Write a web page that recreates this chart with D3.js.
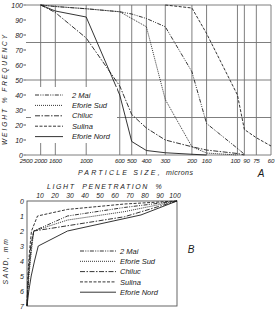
<!DOCTYPE html>
<html>
<head>
<meta charset="utf-8">
<script src="https://cdn.jsdelivr.net/npm/d3@7"></script>
<style>
  body { margin: 0; background: #fff; }
  svg text { font-family: "Liberation Sans", Arial, sans-serif; font-style: italic; fill: #1a1a1a; }
</style>
</head>
<body>
<div id="chart"></div>
<script>
const width = 276;
const height = 311;

// ---- A: particle size distribution ----
const sieveSizes = [2000, 1600, 1000, 600, 500, 400, 300, 200, 160, 100, 90, 75, 60];
const sizeTicks = [2500, 2000, 1600, 1000, 600, 500, 400, 300, 200, 160, 100, 90, 75, 60];
const freqTicks = [0, 10, 20, 30, 40, 50, 60, 70, 80, 90, 100];
const freqGrid = [0, 25, 50, 75, 100];
const mai2A       = [100, 99, 97.5, 95.5, 94, 91, 85.5, 55.5, 21, 4.4, 0.5, null, null];
const eforieSudA  = [100, 99, 97.5, 95.5, 91, 85.5, 37, 5.5, 1.3, 0, null, null, null];
const chilucA     = [100, 95, 78, 46, 27, 18, 10, 5.5, 3.3, 1, 0, null, null];
const sulinaA     = [null, null, null, null, null, null, 100, 98, 81, 40, 17, 11.5, 6];
const eforieNordA = [100, 96, 92, 40, 9, 3, 1.5, 0.5, 0, null, null, null, null];

// ---- B: light penetration vs sand depth, [percent, mm] ----
const penTicks = [10, 20, 30, 40, 50, 60, 70, 80, 90, 100];
const depthTicks = [0, 1, 2, 3, 4, 5, 6, 7];
const mai2B       = [[100, 0], [65, 0.43], [27, 1.0], [4.5, 2], [3, 3], [2, 4], [1, 5], [0.5, 6], [0, 7]];
const eforieSudB  = [[100, 0], [65, 0.71], [27, 1.27], [4.5, 2], [3.3, 3], [2.2, 4], [1.3, 5], [0.6, 6], [0, 7]];
const chilucB     = [[100, 0], [65, 1.05], [20, 1.76], [4.5, 2], [2.5, 3], [1.6, 4], [0.9, 5], [0.4, 6], [0, 7]];
const sulinaB     = [[100, 0], [65, 0.2], [27, 0.56], [7, 1], [3, 2], [2, 3], [1.2, 4], [0.6, 5], [0.3, 6], [0, 7]];
const eforieNordB = [[100, 0], [76, 0.93], [27, 2], [7.5, 3], [5, 4], [2.8, 5], [1.2, 6], [0, 7]];

const series = [
  {name: "2 Mai",       a: mai2A,       b: mai2B,       dash: "4,1.3,1,1.3,1,1.3"},
  {name: "Eforie Sud",  a: eforieSudA,  b: eforieSudB,  dash: "1,1"},
  {name: "Chiluc",      a: chilucA,     b: chilucB,     dash: "5,1.5,1.5,1.5"},
  {name: "Sulina",      a: sulinaA,     b: sulinaB,     dash: "3,1.5"},
  {name: "Eforie Nord", a: eforieNordA, b: eforieNordB, dash: null}
];

const svg = d3.select('#chart')
  .append('svg')
  .attr('width', width)
  .attr('height', height);

const gridColor = '#707070';
const lineColor = '#1e1e1e';

// ===== chart A =====
const x = d3.scaleLog().domain([2500, 60]).range([26, 271]);
const y = d3.scaleLinear().domain([0, 100]).range([155, 5]);

const gA = svg.append('g');

// grid
gA.selectAll('.vgrid')
  .data(sieveSizes)
  .enter().append('line')
  .attr('x1', d => x(d)).attr('x2', d => x(d))
  .attr('y1', y(100)).attr('y2', y(0))
  .attr('stroke', gridColor).attr('stroke-width', 0.9);

gA.selectAll('.hgrid')
  .data(freqGrid)
  .enter().append('line')
  .attr('x1', x(2500)).attr('x2', x(60))
  .attr('y1', d => y(d)).attr('y2', d => y(d))
  .attr('stroke', gridColor).attr('stroke-width', 0.9);

// y ticks
gA.selectAll('.ytick')
  .data(freqTicks)
  .enter().append('line')
  .attr('x1', x(2500) - 2.5).attr('x2', x(2500))
  .attr('y1', d => y(d)).attr('y2', d => y(d))
  .attr('stroke', '#333').attr('stroke-width', 0.8);

gA.selectAll('.ylab')
  .data(freqTicks)
  .enter().append('text')
  .attr('x', x(2500) - 3)
  .attr('y', d => y(d) + 2.5)
  .attr('text-anchor', 'end')
  .attr('font-size', 7)
  .text(d => d);

// 100 and 90 sit very close, so push them apart a little
gA.selectAll('.xlab')
  .data(sizeTicks)
  .enter().append('text')
  .attr('x', d => d === 100 ? x(d) + 2.5 : d === 90 ? x(d) - 1 : x(d))
  .attr('y', 163)
  .attr('text-anchor', d => d === 100 ? 'end' : d === 90 ? 'start' : 'middle')
  .attr('font-size', 6.2)
  .attr('letter-spacing', -0.3)
  .text(d => d);

// curves
const lineA = d3.line()
  .defined(d => d.v != null)
  .x(d => x(d.s))
  .y(d => y(d.v));

gA.selectAll('.curveA')
  .data(series)
  .enter().append('path')
  .attr('d', d => lineA(d.a.map((v, i) => ({s: sieveSizes[i], v: v}))))
  .attr('fill', 'none')
  .attr('stroke', lineColor)
  .attr('stroke-width', 0.9)
  .attr('stroke-dasharray', d => d.dash);

// legend A (white box hides grid)
gA.append('rect')
  .attr('x', 31).attr('y', 87).attr('width', 86).attr('height', 56)
  .attr('fill', '#fff');

const legA = gA.selectAll('.legA')
  .data(series)
  .enter().append('g')
  .attr('transform', (d, i) => `translate(0, ${95 + i * 10.4})`);

legA.append('line')
  .attr('x1', 35).attr('x2', 63)
  .attr('stroke', lineColor).attr('stroke-width', 0.9)
  .attr('stroke-dasharray', d => d.dash);

legA.append('text')
  .attr('x', 72).attr('y', 2.6)
  .attr('font-size', 7.5)
  .text(d => d.name);

// titles
gA.append('text')
  .attr('transform', `translate(7, 89) rotate(-90)`)
  .attr('text-anchor', 'middle')
  .attr('font-size', 6.5)
  .attr('letter-spacing', 2)
  .text('WEIGHT % FREQUENCY');

const titleA = gA.append('text')
  .attr('x', 78).attr('y', 175)
  .attr('font-size', 7);
titleA.append('tspan').attr('letter-spacing', 2.2).text('PARTICLE SIZE, ');
titleA.append('tspan').attr('letter-spacing', 0.4).text('microns');

gA.append('text')
  .attr('x', 261).attr('y', 177)
  .attr('text-anchor', 'middle')
  .attr('font-size', 10)
  .text('A');

// ===== chart B =====
const xB = d3.scaleLinear().domain([0, 100]).range([27, 177]);
const yB = d3.scaleLinear().domain([0, 7]).range([201, 306]);

const gB = svg.append('g');

gB.append('rect')
  .attr('x', xB(0)).attr('y', yB(0))
  .attr('width', xB(100) - xB(0)).attr('height', yB(7) - yB(0))
  .attr('fill', 'none').attr('stroke', '#555').attr('stroke-width', 0.9);

gB.selectAll('.xlabB')
  .data(penTicks)
  .enter().append('text')
  .attr('x', d => xB(d) - 2)
  .attr('y', 198)
  .attr('text-anchor', 'middle')
  .attr('font-size', 6.8)
  .text(d => d);

gB.selectAll('.ylabB')
  .data(depthTicks)
  .enter().append('text')
  .attr('x', xB(0) - 3)
  .attr('y', d => yB(d) + 2.5)
  .attr('text-anchor', 'end')
  .attr('font-size', 7)
  .text(d => d);

const lineB = d3.line()
  .x(d => xB(d[0]))
  .y(d => yB(d[1]));

gB.selectAll('.curveB')
  .data(series)
  .enter().append('path')
  .attr('d', d => lineB(d.b))
  .attr('fill', 'none')
  .attr('stroke', lineColor)
  .attr('stroke-width', 0.9)
  .attr('stroke-dasharray', d => d.dash);

const legB = gB.selectAll('.legB')
  .data(series)
  .enter().append('g')
  .attr('transform', (d, i) => `translate(0, ${251 + i * 10.3})`);

legB.append('line')
  .attr('x1', 80).attr('x2', 116)
  .attr('stroke', lineColor).attr('stroke-width', 0.9)
  .attr('stroke-dasharray', d => d.dash);

legB.append('text')
  .attr('x', 120).attr('y', 2.6)
  .attr('font-size', 7.5)
  .text(d => d.name);

gB.append('text')
  .attr('x', 47).attr('y', 189)
  .attr('font-size', 7)
  .attr('letter-spacing', 1.6)
  .attr('word-spacing', 3)
  .text('LIGHT PENETRATION %');

gB.append('text')
  .attr('transform', `translate(8, 261) rotate(-90)`)
  .attr('text-anchor', 'middle')
  .attr('font-size', 6.8)
  .attr('letter-spacing', 1.6)
  .text('SAND, mm');

gB.append('text')
  .attr('x', 191).attr('y', 253)
  .attr('text-anchor', 'middle')
  .attr('font-size', 10)
  .text('B');
</script>
</body>
</html>
